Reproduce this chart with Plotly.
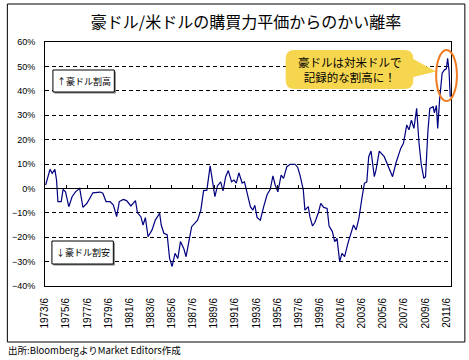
import plotly.graph_objects as go

# ---- data ----
years = [1973.48, 1973.89, 1974.10, 1974.35, 1974.51, 1974.64, 1974.95, 1975.13, 1975.36, 1975.67,
         1975.98, 1976.30, 1976.70, 1977.01, 1977.39, 1977.70, 1977.95, 1978.64, 1978.89, 1979.20,
         1979.58, 1979.89, 1980.20, 1980.45, 1980.83, 1981.14, 1981.55, 1981.98, 1982.17, 1982.49,
         1982.70, 1982.92, 1983.17, 1983.55, 1983.86, 1984.27, 1984.42, 1984.67, 1984.98, 1985.21,
         1985.45, 1985.73, 1985.99, 1986.24, 1986.55, 1986.77, 1987.08, 1987.30, 1987.86, 1988.17,
         1988.43, 1988.74, 1989.05, 1989.27, 1989.50, 1989.74, 1990.05, 1990.27, 1990.52, 1990.77,
         1991.08, 1991.31, 1991.52, 1991.77, 1992.08, 1992.30, 1992.55, 1992.86, 1993.09, 1993.28,
         1993.49, 1993.80, 1994.12, 1994.43, 1994.74, 1994.99, 1995.21, 1995.46, 1995.77, 1996.00,
         1996.31, 1996.62, 1997.09, 1997.34, 1997.55, 1997.87, 1998.02, 1998.18, 1998.34, 1998.49,
         1998.74, 1998.96, 1999.28, 1999.52, 1999.80, 2000.12, 2000.31, 2000.62, 2000.84, 2001.06,
         2001.31, 2001.53, 2001.78, 2002.09, 2002.40, 2002.62, 2002.87, 2003.13, 2003.44, 2003.65,
         2003.88, 2004.06, 2004.28, 2004.44, 2004.59, 2004.75, 2005.06, 2005.53, 2005.78, 2006.09,
         2006.32, 2006.63, 2007.09, 2007.35, 2007.66, 2007.87, 2008.10, 2008.34, 2008.60, 2008.81,
         2009.04, 2009.28, 2009.44, 2009.66, 2009.84, 2010.16, 2010.28, 2010.47, 2010.59, 2010.78,
         2011.01, 2011.22, 2011.41, 2011.53, 2011.66, 2011.78]
deviation = [1.4, 7.8, 6.2, 7.8, 3.4, -5.4, -5.4, -0.4, -1.4, -7.5,
             -3.4, -1.4, 0.0, -7.8, -6.1, -4.0, -1.8, -1.5, -2.0, -5.4,
             -5.4, -6.8, -11.6, -5.4, -4.5, -5.0, -7.2, -5.0, -10.0, -11.6,
             -15.0, -12.0, -19.8, -17.0, -13.0, -10.2, -15.0, -18.4, -19.0, -28.7,
             -32.0, -26.6, -28.7, -21.8, -24.6, -28.0, -21.1, -15.7, -13.0, -8.9,
             -0.9, -0.7, 9.2, 3.4, -3.4, 1.0, 2.7, -1.0, 4.8, 7.3,
             2.7, 3.4, 2.2, 6.4, 2.2, 2.7, -2.0, -7.5, -8.9, -6.9,
             -11.9, -13.0, -7.5, -2.7, -0.4, 5.1, 1.4, -1.4, 5.4, 4.1,
             8.9, 9.9, 9.9, 8.6, 5.5, -0.7, -8.9, -8.0, -7.5, -11.6,
             -15.4, -14.0, -10.2, -6.1, -7.8, -8.2, -15.4, -17.7, -21.8, -20.5,
             -30.0, -26.6, -28.0, -22.5, -18.4, -15.0, -17.0, -12.3, -3.4, 2.1,
             2.7, 13.0, 15.3, 10.0, 4.8, 7.5, 15.3, 13.0, 10.3, 6.8,
             4.8, 10.3, 16.4, 18.5, 26.0, 24.0, 28.0, 24.6, 32.8, 19.1,
             9.6, 4.1, 4.8, 23.2, 32.8, 33.5, 31.0, 34.0, 24.6, 36.9,
             47.2, 48.5, 49.0, 53.3, 48.5, 37.6]
tick_labels = ["1973/6", "1975/6", "1977/6", "1979/6", "1981/6", "1983/6", "1985/6",
               "1987/6", "1989/6", "1991/6", "1993/6", "1995/6", "1997/6", "1999/6",
               "2001/6", "2003/6", "2005/6", "2007/6", "2009/6", "2011/6"]
tick_vals = [int(s.split("/")[0]) + (int(s.split("/")[1]) - 1) / 12 for s in tick_labels]

title_text = "豪ドル/米ドルの購買力平価からのかい離率"
note_high = "↑豪ドル割高"
note_low = "↓豪ドル割安"
callout_text = "豪ドルは対米ドルで<br>記録的な割高に！"
source_text = "出所:BloombergよりMarket Editors作成"

# ---- layout geometry (pixels) ----
W, H = 469, 360
L, R, T, B = 41, 451, 42, 286
X_RANGE = [1973.417, 2011.85]


def px(x):
    return (x - L) / (R - L)


def py(y):
    return (B - y) / (B - T)


JP = "Noto Sans CJK JP, sans-serif"
NUM = "Liberation Sans, Arial, sans-serif"

fig = go.Figure()
fig.add_trace(go.Scatter(x=years, y=deviation, mode="lines",
                         line=dict(color="#000080", width=1.2),
                         hoverinfo="skip", showlegend=False))
# invisible trace on the zero-line axis (tick marks at y=0)
fig.add_trace(go.Scatter(x=years, y=deviation, mode="lines", xaxis="x2",
                         line=dict(width=0), opacity=0,
                         hoverinfo="skip", showlegend=False))

shapes = []
# outer frame
shapes.append(dict(type="rect", xref="paper", yref="paper",
                   x0=px(3), x1=px(465), y0=py(342), y1=py(4),
                   line=dict(color="black", width=1), layer="below"))


def rounded(x0, y0, x1, y1, r):
    return (f"M {px(x0 + r)} {py(y0)} L {px(x1 - r)} {py(y0)} "
            f"Q {px(x1)} {py(y0)} {px(x1)} {py(y0 + r)} L {px(x1)} {py(y1 - r)} "
            f"Q {px(x1)} {py(y1)} {px(x1 - r)} {py(y1)} L {px(x0 + r)} {py(y1)} "
            f"Q {px(x0)} {py(y1)} {px(x0)} {py(y1 - r)} L {px(x0)} {py(y0 + r)} "
            f"Q {px(x0)} {py(y0)} {px(x0 + r)} {py(y0)} Z")


YEL = "#F7D64F"
# callout tail
shapes.append(dict(type="path", xref="paper", yref="paper",
                   path=f"M {px(398)} {py(51)} L {px(436)} {py(71.5)} L {px(413)} {py(77)} Z",
                   fillcolor=YEL, line=dict(width=0), layer="above"))
# callout body
shapes.append(dict(type="path", xref="paper", yref="paper",
                   path=rounded(284, 50, 413, 89, 9),
                   fillcolor=YEL, line=dict(width=0), layer="above"))
# orange ellipse
shapes.append(dict(type="circle", xref="paper", yref="paper",
                   x0=px(436), x1=px(457), y0=py(101), y1=py(50),
                   line=dict(color="#F07A22", width=2), layer="above"))

# note boxes with slight shadow
for (bx0, by0, bx1, by1) in [(49, 70, 111, 92), (48, 241, 110, 264)]:
    shapes.append(dict(type="rect", xref="paper", yref="paper",
                       x0=px(bx0 + 1.5), x1=px(bx1 + 1.5), y0=py(by1 + 1.5), y1=py(by0 + 1.5),
                       fillcolor="#808080", line=dict(width=0), layer="above"))
    shapes.append(dict(type="rect", xref="paper", yref="paper",
                       x0=px(bx0), x1=px(bx1), y0=py(by1), y1=py(by0),
                       fillcolor="white", line=dict(color="black", width=1), layer="above"))

annotations = [
    dict(text=callout_text, xref="paper", yref="paper", x=px(348.5), y=py(69.5),
         xanchor="center", yanchor="middle",
         showarrow=False, font=dict(family=JP, size=11.5, color="black"), align="center"),
    dict(text=note_high, xref="paper", yref="paper", x=px(80), y=py(81),
         xanchor="center", yanchor="middle",
         showarrow=False, font=dict(family=JP, size=9, color="black")),
    dict(text=note_low, xref="paper", yref="paper", x=px(79), y=py(252.5),
         xanchor="center", yanchor="middle",
         showarrow=False, font=dict(family=JP, size=9, color="black")),
    dict(text=source_text, xref="paper", yref="paper", x=px(2), y=py(350),
         xanchor="left", yanchor="middle", showarrow=False,
         font=dict(family=JP, size=9.5, color="black")),
]

fig.update_layout(
    width=W, height=H,
    margin=dict(l=L, r=W - R, t=T, b=H - B, pad=0),
    paper_bgcolor="white", plot_bgcolor="white",
    title=dict(text=title_text, x=246 / W, y=1 - 22 / H, xanchor="center", yanchor="middle",
               font=dict(family=JP, size=16, color="black")),
    xaxis=dict(range=X_RANGE, tickvals=tick_vals, ticktext=tick_labels, tickangle=-90,
               showgrid=False, zeroline=False, showline=True, linecolor="black", linewidth=1,
               mirror=True, ticks="", ticklabelstandoff=7,
               tickfont=dict(family=NUM, size=10, color="black")),
    xaxis2=dict(range=X_RANGE, tickvals=tick_vals, overlaying="x", anchor="free",
                position=0.4, side="bottom", showline=True, linecolor="black", linewidth=1,
                ticks="inside", ticklen=3, tickcolor="black", showticklabels=False,
                showgrid=False, zeroline=False),
    yaxis=dict(range=[-40, 60], dtick=10, ticksuffix="%", showgrid=True,
               gridcolor="black", gridwidth=1, griddash="4px,3px",
               zeroline=False, showline=True, linecolor="black", linewidth=1, mirror=True,
               ticks="", ticklabelstandoff=7,
               tickfont=dict(family=NUM, size=9, color="black")),
    shapes=shapes,
    annotations=annotations,
    showlegend=False,
)

fig.write_html("out.html", config={"displayModeBar": False},
               post_script="document.body.style.margin='0';")
